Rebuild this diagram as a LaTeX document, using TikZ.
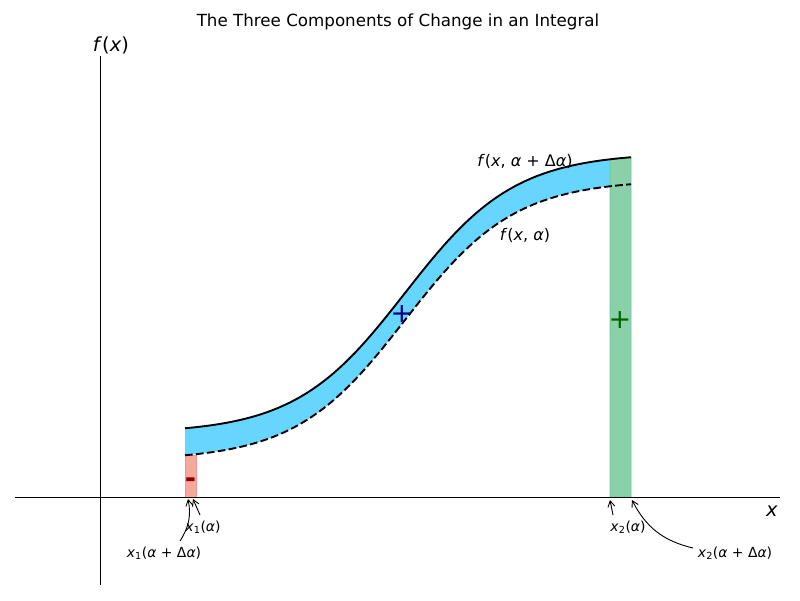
\documentclass[tikz,border=0pt]{standalone}
\usepackage{fontspec}
\setmainfont{DejaVu Sans}
\usetikzlibrary{arrows.meta}
\definecolor{bluefill}{RGB}{102,214,255}
\definecolor{greenfill}{RGB}{138,209,169}
\definecolor{greenedge}{RGB}{110,196,150}
\definecolor{redfill}{RGB}{247,168,158}
\definecolor{rededge}{RGB}{240,150,140}
\definecolor{navyc}{RGB}{0,0,128}
\definecolor{dgreen}{RGB}{0,100,0}
\definecolor{dred}{RGB}{139,0,0}
\newcommand{\mi}[1]{\textit{#1}}
\begin{document}
\begin{tikzpicture}[x=1pt,y=-1pt,
  declare function={lowf(\t)=320-140.3*tanh((\t-405)/110); upf(\t)=lowf(\t)-27;},
  axisline/.style={line width=0.9pt,black},
  curvelabel/.style={font=\fontsize{16}{18}\selectfont,inner sep=0pt},
  annlabel/.style={font=\fontsize{13.9}{15}\selectfont,inner sep=1pt},
  ann/.style={-{Straight Barb[length=6pt,width=7pt]},line width=0.9pt},
  signmark/.style={font=\fontsize{27}{28}\selectfont,inner sep=0pt}]
\useasboundingbox (0,0) rectangle (800,600);
% fills
\fill[bluefill] plot[domain=185:610,samples=120] (\x,{upf(\x)}) -- plot[domain=610:185,samples=120] (\x,{lowf(\x)}) -- cycle;
\filldraw[fill=greenfill,draw=greenedge,line width=0.8pt] (610,497) -- plot[domain=610:631,samples=10] (\x,{upf(\x)}) -- (631,497) -- cycle;
\filldraw[fill=redfill,draw=rededge,line width=0.8pt] (185,497) rectangle (196,{lowf(185)});
% axes
\coordinate (yb) at (100,585);
\coordinate (yt) at (100,56);
\coordinate (xl) at (15,497);
\coordinate (xr) at (780,497);
\draw[axisline] (yb) -- (yt);
\draw[axisline] (xl) -- (xr);
% curves
\draw[line width=1.9pt,black] plot[domain=185:631,samples=150] (\x,{upf(\x)});
\draw[line width=1.9pt,black,dash pattern=on 7.7pt off 3.3pt] plot[domain=185:631,samples=150] (\x,{lowf(\x)});
% signs
\node[signmark,text=navyc] (plusb) at (402,314) {+};
\node[signmark,text=dgreen] (plusg) at (620,320) {+};
\node[signmark,text=dred] (minr) at (190.5,483) {\textbf{-}};
% labels
\node[font=\fontsize{16.7}{18}\selectfont] (title) at (398,22) {The Three Components of Change in an Integral};
\node[font=\fontsize{19.4}{21}\selectfont,inner sep=0pt] (fx) at (111,45) {\mi{f}(\mi{x})};
\node[font=\fontsize{19.4}{21}\selectfont,inner sep=0pt] (xlab) at (772,511) {\mi{x}};
\node[curvelabel] (fup) at (525,161) {\mi{f}(\mi{x}, \mi{α} + Δ\mi{α})};
\node[curvelabel] (flow) at (525,235) {\mi{f}(\mi{x}, \mi{α})};
% annotations
\coordinate (p1) at (193,499);
\coordinate (p1d) at (188,499);
\coordinate (p2) at (610,500);
\coordinate (p2d) at (632,500);
\node[annlabel] (a1) at (203,527) {\mi{x}\textsubscript{1}(\mi{α})};
\node[annlabel] (a1d) at (164,553) {\mi{x}\textsubscript{1}(\mi{α} + Δ\mi{α})};
\node[annlabel] (a2) at (628,527) {\mi{x}\textsubscript{2}(\mi{α})};
\node[annlabel] (a2d) at (735,553) {\mi{x}\textsubscript{2}(\mi{α} + Δ\mi{α})};
\draw[ann] (200,515) -- (p1);
\draw[ann] (180,541) to[bend right=22] (p1d);
\draw[ann] (613,515) -- (p2);
\draw[ann] (693,548) to[bend left=25] (p2d);
\end{tikzpicture}
\end{document}
